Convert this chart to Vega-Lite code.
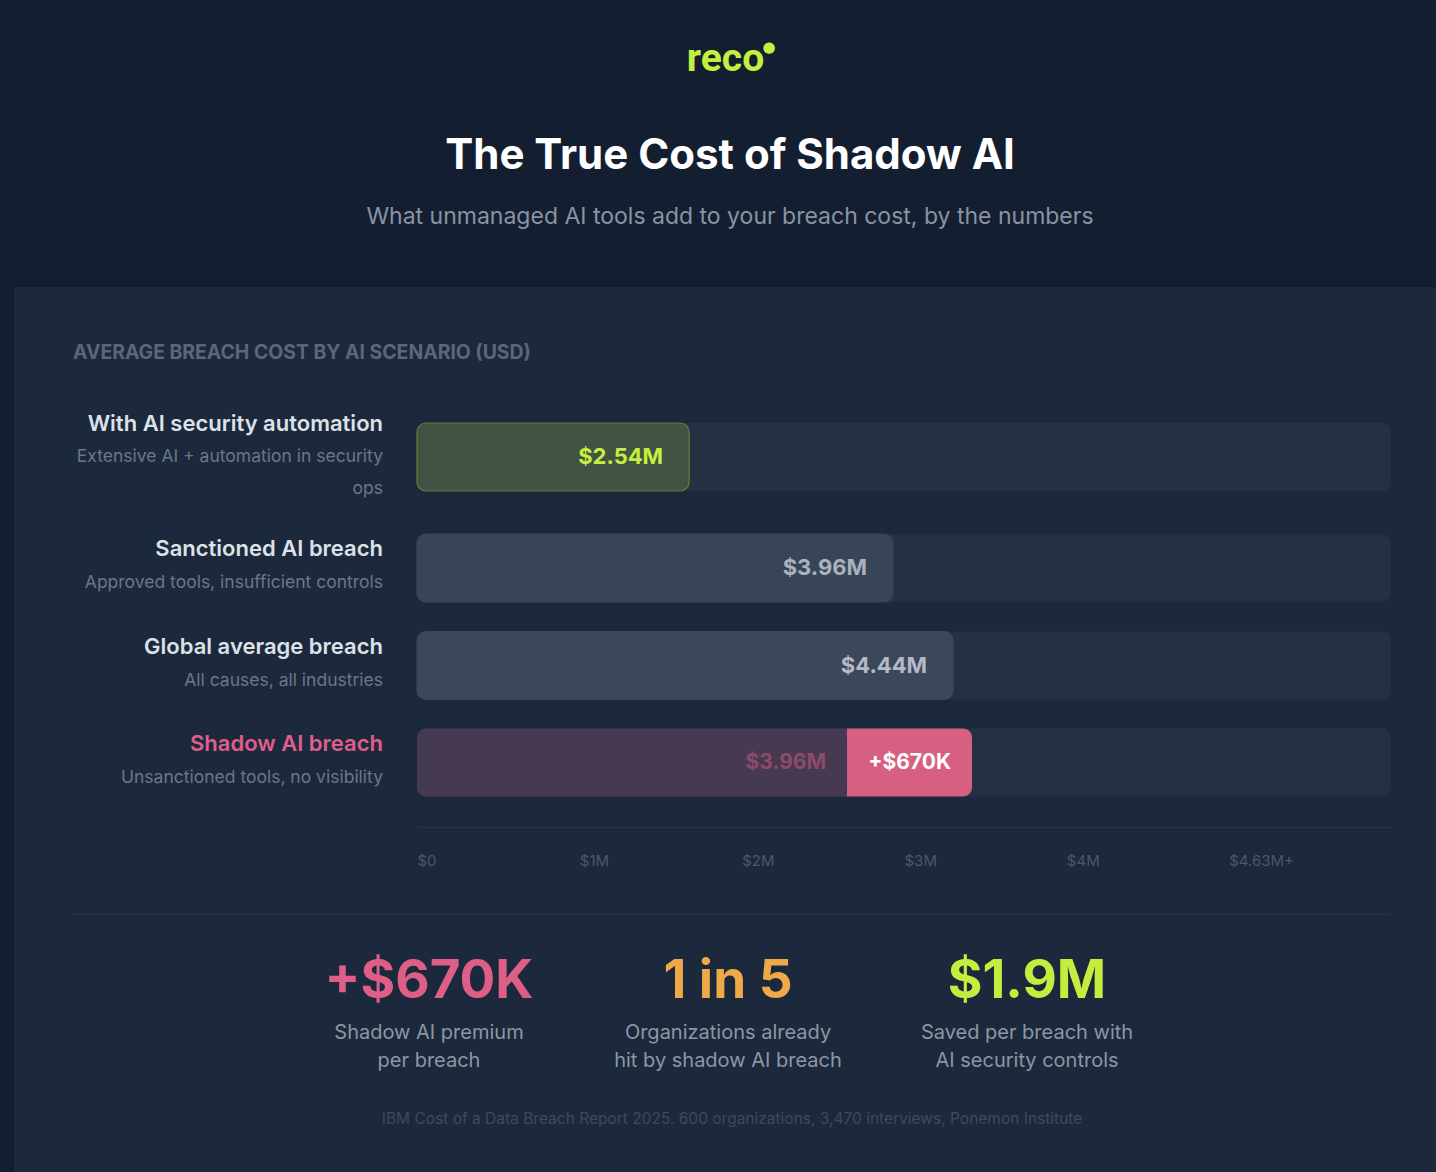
{
  "$schema": "https://vega.github.io/schema/vega-lite/v6.json",
  "background": "#1c293c",
  "padding": 0,
  "spacing": 0,
  "resolve": {"scale": {"color": "independent", "fill": "independent", "stroke": "independent"}},
  "config": {
    "view": {"stroke": null},
    "font": "Inter",
    "text": {"font": "Inter"},
    "title": {"font": "Inter"},
    "axis": {"labelFont": "Inter"}
  },
  "datasets": {
    "scenarios": [
      {"row": 1, "group": "standard", "title": "With AI security automation", "sub": ["Extensive AI + automation in security", "ops"]},
      {"row": 2, "group": "standard", "title": "Sanctioned AI breach", "sub": "Approved tools, insufficient controls"},
      {"row": 3, "group": "standard", "title": "Global average breach", "sub": "All causes, all industries"},
      {"row": 4, "group": "shadow", "title": "Shadow AI breach", "sub": "Unsanctioned tools, no visibility"}
    ],
    "segments": [
      {"row": 1, "kind": "automation", "start": 0, "end": 1.676, "label": "$2.54M"},
      {"row": 2, "kind": "sanctioned", "start": 0, "end": 2.932, "label": "$3.96M"},
      {"row": 3, "kind": "global", "start": 0, "end": 3.302, "label": "$4.44M"},
      {"row": 4, "kind": "shadowBase", "start": 0, "end": 2.649, "label": "$3.96M"},
      {"row": 4, "kind": "premium", "start": 2.649, "end": 3.419, "label": "+$670K"}
    ],
    "stats": [
      {"stat": "premium", "value": "+$670K", "label": ["Shadow AI premium", "per breach"]},
      {"stat": "share", "value": "1 in 5", "label": ["Organizations already", "hit by shadow AI breach"]},
      {"stat": "saved", "value": "$1.9M", "label": ["Saved per breach with", "AI security controls"]}
    ]
  },
  "vconcat": [
    {
      "width": 1436,
      "height": 287,
      "view": {"fill": "#131f31", "stroke": null},
      "layer": [
        {
          "data": {"values": [{"text": "reco"}]},
          "mark": {"type": "text", "font": "Roboto", "fontSize": 39, "fontWeight": 700, "color": "#c4ef3e", "baseline": "alphabetic", "dx": 7.5, "dy": -73},
          "encoding": {"text": {"field": "text", "type": "nominal"}}
        },
        {
          "data": {"values": [{"text": "●"}]},
          "mark": {"type": "text", "font": "DejaVu Sans", "fontSize": 15, "color": "#c4ef3e", "baseline": "middle", "dx": 51, "dy": -97},
          "encoding": {"text": {"field": "text", "type": "nominal"}}
        },
        {
          "data": {"values": [{"text": "The True Cost of Shadow AI"}]},
          "mark": {"type": "text", "fontSize": 42, "fontWeight": 700, "color": "#ffffff", "baseline": "alphabetic", "dx": 12, "dy": 25},
          "encoding": {"text": {"field": "text", "type": "nominal"}}
        },
        {
          "data": {"values": [{"text": "What unmanaged AI tools add to your breach cost, by the numbers"}]},
          "mark": {"type": "text", "fontSize": 23, "color": "#8a93a2", "baseline": "alphabetic", "dx": 12, "dy": 80},
          "encoding": {"text": {"field": "text", "type": "nominal"}}
        }
      ]
    },
    {
      "spacing": 57,
      "resolve": {"scale": {"color": "independent", "fill": "independent", "stroke": "independent"}},
      "hconcat": [
        {
          "width": 14,
          "height": 885,
          "view": {"fill": "#131f31", "stroke": null},
          "data": {"values": [{}]},
          "mark": {"type": "text", "text": ""}
        },
        {
          "spacing": 40,
          "center": true,
          "resolve": {"scale": {"color": "independent", "fill": "independent", "stroke": "independent"}},
          "vconcat": [
            {
              "width": 1319,
              "height": 15,
              "data": {"values": [{}]},
              "mark": {"type": "rule", "opacity": 0},
              "encoding": {"y": {"value": 0}}
            },
            {
              "title": {"text": "AVERAGE BREACH COST BY AI SCENARIO (USD)", "anchor": "start", "fontSize": 19.4, "fontWeight": 700, "color": "#5b6779", "offset": 50},
              "spacing": 33,
              "resolve": {"scale": {"color": "independent", "fill": "independent", "stroke": "independent"}},
              "hconcat": [
                {
                  "width": 310,
                  "height": 374,
                  "data": {"name": "scenarios"},
                  "layer": [
                    {
                      "transform": [{"filter": "!isArray(datum.sub)"}],
                      "mark": {"type": "text", "x": "width", "align": "right", "baseline": "middle", "fontSize": 22, "fontWeight": 600, "dy": -19},
                      "encoding": {
                        "y": {"field": "row", "type": "quantitative", "scale": {"domain": [1, 2, 3, 4], "range": [34, 145, 242.5, 339.5], "padding": 0}, "axis": null},
                        "text": {"field": "title", "type": "nominal"},
                        "color": {"field": "group", "type": "nominal", "scale": {"domain": ["standard", "shadow"], "range": ["#dde1e8", "#e05d8c"]}, "legend": null}
                      }
                    },
                    {
                      "transform": [{"filter": "isArray(datum.sub)"}],
                      "mark": {"type": "text", "x": "width", "align": "right", "baseline": "middle", "fontSize": 22, "fontWeight": 600, "dy": -33},
                      "encoding": {
                        "y": {"field": "row", "type": "quantitative", "scale": {"domain": [1, 2, 3, 4], "range": [34, 145, 242.5, 339.5], "padding": 0}, "axis": null},
                        "text": {"field": "title", "type": "nominal"},
                        "color": {"field": "group", "type": "nominal", "scale": {"domain": ["standard", "shadow"], "range": ["#dde1e8", "#e05d8c"]}, "legend": null}
                      }
                    },
                    {
                      "transform": [{"filter": "!isArray(datum.sub)"}],
                      "mark": {"type": "text", "x": "width", "align": "right", "baseline": "middle", "fontSize": 17.5, "color": "#6c7686", "dy": 15},
                      "encoding": {
                        "y": {"field": "row", "type": "quantitative", "scale": {"domain": [1, 2, 3, 4], "range": [34, 145, 242.5, 339.5], "padding": 0}, "axis": null},
                        "text": {"field": "sub", "type": "nominal"}
                      }
                    },
                    {
                      "transform": [{"filter": "isArray(datum.sub)"}],
                      "mark": {"type": "text", "x": "width", "align": "right", "baseline": "middle", "fontSize": 17.5, "color": "#6c7686", "lineHeight": 32, "dy": 0},
                      "encoding": {
                        "y": {"field": "row", "type": "quantitative", "scale": {"domain": [1, 2, 3, 4], "range": [34, 145, 242.5, 339.5], "padding": 0}, "axis": null},
                        "text": {"field": "sub", "type": "nominal"}
                      }
                    }
                  ]
                },
                {
                  "width": 974,
                  "height": 374,
                  "layer": [
                    {
                      "data": {"name": "scenarios"},
                      "mark": {"type": "bar", "orient": "horizontal", "size": 68, "cornerRadius": 9, "color": "#243144"},
                      "encoding": {
                        "x": {
                          "datum": 0, "type": "quantitative",
                          "scale": {"domain": [0, 6], "nice": false, "zero": false, "padding": 0},
                          "axis": {
                            "values": [0, 1, 2, 3, 4, 5],
                            "labelExpr": "datum.value == 0 ? '$0' : datum.value == 5 ? '$4.63M+' : '$' + datum.value + 'M'",
                            "title": null, "grid": false, "ticks": false, "tickSize": 0,
                            "domainColor": "#27344a", "domainWidth": 1.5, "offset": 30,
                            "labelAlign": "left", "labelBaseline": "middle", "labelPadding": 33,
                            "labelColor": "#4b576a", "labelFontSize": 15, "labelFlush": false
                          }
                        },
                        "x2": {"datum": 6},
                        "y": {"field": "row", "type": "quantitative", "scale": {"domain": [1, 2, 3, 4], "range": [34, 145, 242.5, 339.5], "padding": 0}, "axis": null}
                      }
                    },
                    {
                      "data": {"name": "segments"},
                      "transform": [{"filter": {"field": "kind", "oneOf": ["automation", "sanctioned", "global"]}}],
                      "mark": {"type": "bar", "orient": "horizontal", "size": 68, "cornerRadius": 9, "strokeWidth": 1.2},
                      "encoding": {
                        "x": {"field": "start", "type": "quantitative"},
                        "x2": {"field": "end"},
                        "y": {"field": "row", "type": "quantitative", "scale": {"domain": [1, 2, 3, 4], "range": [34, 145, 242.5, 339.5], "padding": 0}, "axis": null},
                        "fill": {"field": "kind", "type": "nominal", "scale": {"domain": ["automation", "sanctioned", "global"], "range": ["#425344", "#384556", "#3c4859"]}, "legend": null},
                        "stroke": {"field": "kind", "type": "nominal", "scale": {"domain": ["automation", "sanctioned", "global"], "range": ["#647f3a", "#384556", "#3c4859"]}, "legend": null}
                      }
                    },
                    {
                      "data": {"name": "segments"},
                      "transform": [{"filter": {"field": "kind", "equal": "shadowBase"}}],
                      "mark": {"type": "bar", "orient": "horizontal", "size": 68, "cornerRadiusTopLeft": 9, "cornerRadiusBottomLeft": 9, "color": "#453a51"},
                      "encoding": {
                        "x": {"field": "start", "type": "quantitative"},
                        "x2": {"field": "end"},
                        "y": {"field": "row", "type": "quantitative", "scale": {"domain": [1, 2, 3, 4], "range": [34, 145, 242.5, 339.5], "padding": 0}, "axis": null}
                      }
                    },
                    {
                      "data": {"name": "segments"},
                      "transform": [{"filter": {"field": "kind", "equal": "premium"}}],
                      "mark": {"type": "bar", "orient": "horizontal", "size": 68, "cornerRadiusTopRight": 9, "cornerRadiusBottomRight": 9, "color": "#d65f82"},
                      "encoding": {
                        "x": {"field": "start", "type": "quantitative"},
                        "x2": {"field": "end"},
                        "y": {"field": "row", "type": "quantitative", "scale": {"domain": [1, 2, 3, 4], "range": [34, 145, 242.5, 339.5], "padding": 0}, "axis": null}
                      }
                    },
                    {
                      "data": {"name": "segments"},
                      "transform": [{"filter": {"field": "kind", "oneOf": ["automation", "sanctioned", "global"]}}],
                      "mark": {"type": "text", "align": "right", "baseline": "middle", "fontSize": 22, "fontWeight": 700, "dx": -26},
                      "encoding": {
                        "x": {"field": "end", "type": "quantitative"},
                        "y": {"field": "row", "type": "quantitative", "scale": {"domain": [1, 2, 3, 4], "range": [34, 145, 242.5, 339.5], "padding": 0}, "axis": null},
                        "text": {"field": "label", "type": "nominal"},
                        "color": {"field": "kind", "type": "nominal", "scale": {"domain": ["automation", "sanctioned", "global", "shadowBase", "premium"], "range": ["#c5ef3e", "#aab2bf", "#b2bac6", "#8e4a69", "#ffffff"]}, "legend": null}
                      }
                    },
                    {
                      "data": {"name": "segments"},
                      "transform": [{"filter": {"field": "kind", "oneOf": ["shadowBase", "premium"]}}],
                      "mark": {"type": "text", "align": "right", "baseline": "middle", "fontSize": 21, "fontWeight": 700, "dx": -21},
                      "encoding": {
                        "x": {"field": "end", "type": "quantitative"},
                        "y": {"field": "row", "type": "quantitative", "scale": {"domain": [1, 2, 3, 4], "range": [34, 145, 242.5, 339.5], "padding": 0}, "axis": null},
                        "text": {"field": "label", "type": "nominal"},
                        "color": {"field": "kind", "type": "nominal", "scale": {"domain": ["automation", "sanctioned", "global", "shadowBase", "premium"], "range": ["#c5ef3e", "#aab2bf", "#b2bac6", "#8e4a69", "#ffffff"]}, "legend": null}
                      }
                    }
                  ]
                }
              ]
            },
            {
              "width": 1319,
              "height": 7,
              "data": {"values": [{}]},
              "mark": {"type": "rule", "color": "#26344a", "strokeWidth": 1.5},
              "encoding": {"y": {"value": 6.5}}
            },
            {
              "width": 897,
              "height": 200,
              "layer": [
                {
                  "data": {"name": "stats"},
                  "mark": {"type": "text", "fontSize": 53, "fontWeight": 700, "baseline": "alphabetic", "dx": -4, "dy": -85},
                  "encoding": {
                    "x": {"field": "stat", "type": "nominal", "sort": null, "axis": null, "scale": {"type": "point", "padding": 0.5, "domain": ["premium", "share", "saved"]}},
                    "text": {"field": "value", "type": "nominal"},
                    "color": {"field": "stat", "type": "nominal", "scale": {"domain": ["premium", "share", "saved"], "range": ["#dd5f88", "#eeaa48", "#c5ec3f"]}, "legend": null}
                  }
                },
                {
                  "data": {"name": "stats"},
                  "mark": {"type": "text", "fontSize": 20, "color": "#8d96a4", "baseline": "middle", "lineHeight": 28, "dx": -4, "dy": -50},
                  "encoding": {
                    "x": {"field": "stat", "type": "nominal", "sort": null, "axis": null, "scale": {"type": "point", "padding": 0.5, "domain": ["premium", "share", "saved"]}},
                    "text": {"field": "label", "type": "nominal"}
                  }
                },
                {
                  "data": {"values": [{"text": "IBM Cost of a Data Breach Report 2025. 600 organizations, 3,470 interviews, Ponemon Institute"}]},
                  "mark": {"type": "text", "fontSize": 15.5, "color": "#3e4a5c", "baseline": "middle", "dy": 36},
                  "encoding": {"text": {"field": "text", "type": "nominal"}}
                }
              ]
            }
          ]
        }
      ]
    }
  ]
}
